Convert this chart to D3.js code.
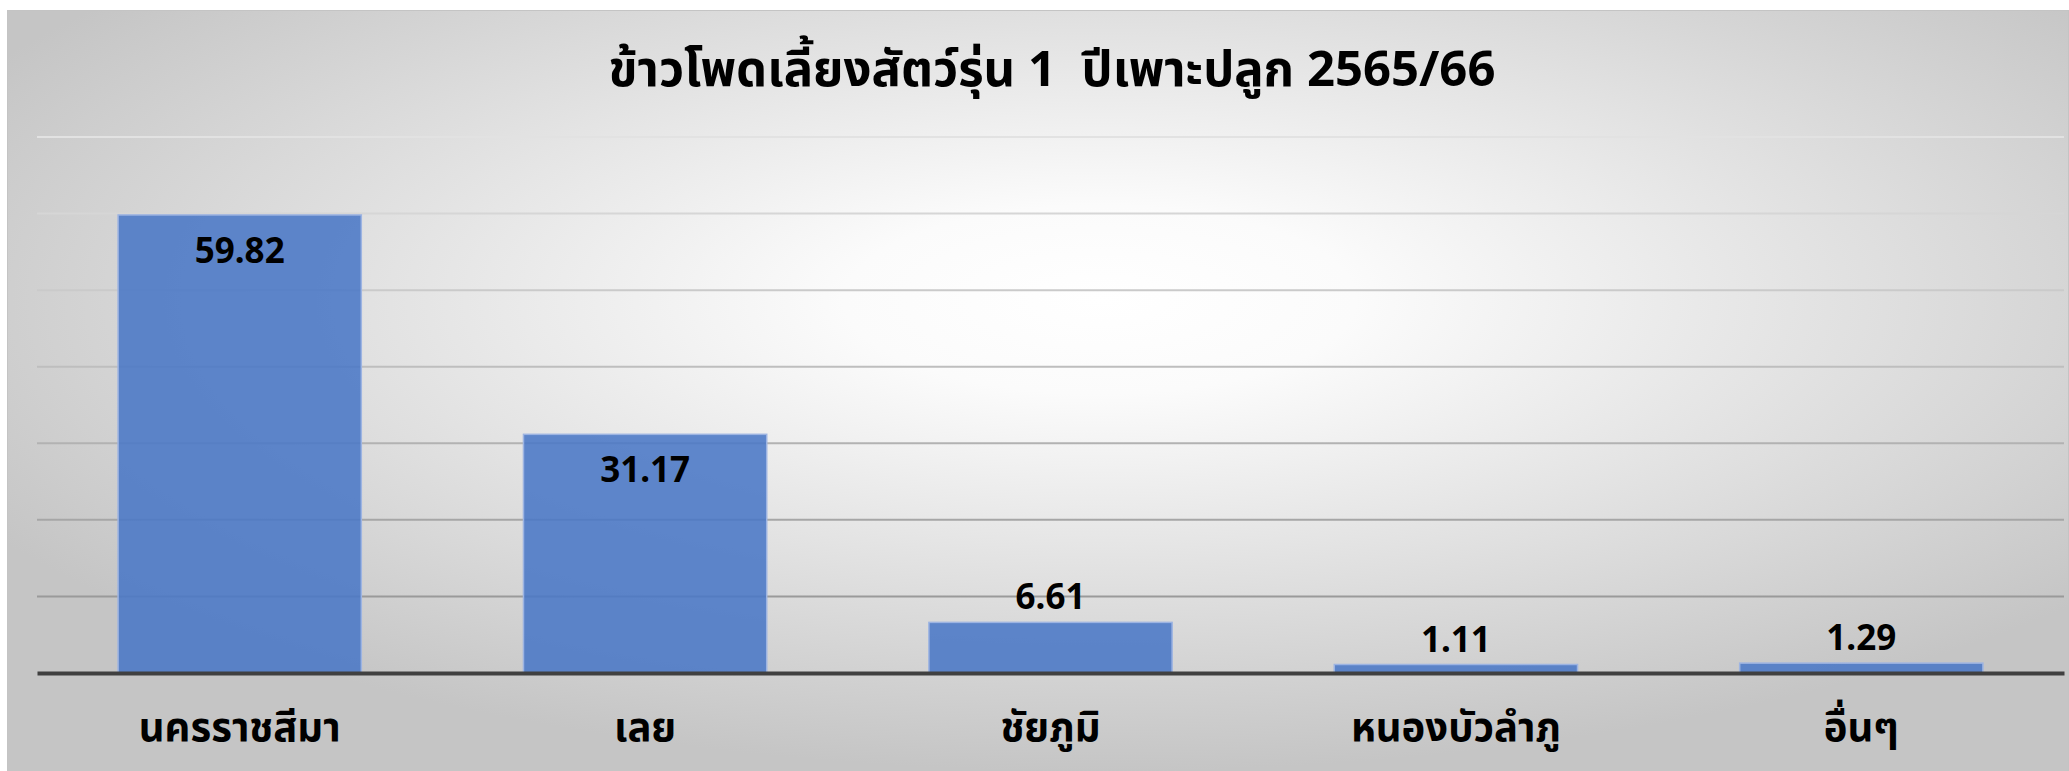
<!DOCTYPE html>
<html>
<head>
<meta charset="utf-8">
<script src="https://cdn.jsdelivr.net/npm/d3@7"></script>
<style>
  body { margin: 0; background: #ffffff; }
  text { font-family: "Noto Sans", "Noto Sans Thai", sans-serif; font-weight: bold; fill: #000; }
</style>
</head>
<body>
<svg id="chart"></svg>
<script>
// data
var chartTitle = "ข้าวโพดเลี้ยงสัตว์รุ่น 1  ปีเพาะปลูก 2565/66";
var provinces = ["นครราชสีมา", "เลย", "ชัยภูมิ", "หนองบัวลำภู", "อื่นๆ"];
var shares = [59.82, 31.17, 6.61, 1.11, 1.29];
var gridTicks = [10, 20, 30, 40, 50, 60, 70];

var W = 2069, H = 771;
var margin = {top: 137, right: 5, bottom: 98, left: 37},
    width = W - margin.left - margin.right,
    height = H - margin.top - margin.bottom;

var svg = d3.select("#chart")
  .attr("width", W)
  .attr("height", H);

// background radial shade
var defs = svg.append("defs");
var grad = defs.append("radialGradient")
  .attr("id", "bg")
  .attr("cx", 0.53).attr("cy", 0.38).attr("r", 0.62);
grad.append("stop").attr("offset", 0).attr("stop-color", "#ffffff");
grad.append("stop").attr("offset", 0.2).attr("stop-color", "#fbfbfb");
grad.append("stop").attr("offset", 1).attr("stop-color", "#c5c5c5");

svg.append("rect")
  .attr("x", 7.5).attr("y", 10.5)
  .attr("width", W - 8).attr("height", H - 10)
  .attr("fill", "url(#bg)")
  .attr("stroke", "#c4c4c4");

var g = svg.append("g")
  .attr("transform", "translate(" + margin.left + "," + margin.top + ")");

var x = d3.scaleBand()
  .domain(provinces)
  .range([0, width])
  .paddingInner(0.4)
  .paddingOuter(0.2);

var y = d3.scaleLinear()
  .domain([0, 70])
  .range([height, 0]);

// gridlines, fading toward the top
var gridShade = d3.scaleLinear().domain([10, 70]).range(["#9a9a9a", "#e2e2e2"]);
g.append("g")
  .selectAll("line")
  .data(gridTicks)
  .enter()
  .append("line")
    .attr("x1", 0)
    .attr("x2", width)
    .attr("y1", function (d) { return y(d); })
    .attr("y2", function (d) { return y(d); })
    .attr("stroke", function (d) { return gridShade(d); })
    .attr("stroke-width", 2);

// bars
g.append("g")
  .selectAll("rect")
  .data(shares)
  .enter()
  .append("rect")
    .attr("x", function (d, i) { return x(provinces[i]); })
    .attr("y", function (d) { return y(d); })
    .attr("width", x.bandwidth())
    .attr("height", function (d) { return height - y(d); })
    .attr("fill", "#4a78c6")
    .attr("fill-opacity", 0.88)
    .attr("stroke", "#9db4e2")
    .attr("stroke-width", 1.5);

// x axis line
g.append("g")
  .attr("transform", "translate(0," + height + ")")
  .call(d3.axisBottom(x).tickSize(0).tickFormat(""))
  .call(function (a) { a.select(".domain").attr("stroke", "#404040").attr("stroke-width", 4); });

// category labels
g.append("g")
  .selectAll("text")
  .data(provinces)
  .enter()
  .append("text")
    .attr("x", function (d) { return x(d) + x.bandwidth() / 2; })
    .attr("y", height + 68)
    .attr("text-anchor", "middle")
    .style("font-size", "40px")
    .text(function (d) { return d; });

// value labels: inside end for tall bars, above for short ones
g.append("g")
  .selectAll("text")
  .data(shares)
  .enter()
  .append("text")
    .attr("x", function (d, i) { return x(provinces[i]) + x.bandwidth() / 2; })
    .attr("y", function (d) { return d > 20 ? y(d) + 48 : y(d) - 13; })
    .attr("text-anchor", "middle")
    .style("font-size", "35px")
    .text(function (d) { return d.toFixed(2); });

// title
svg.append("text")
  .attr("x", 1052)
  .attr("y", 86)
  .attr("text-anchor", "middle")
  .style("font-size", "49px")
  .style("white-space", "pre")
  .text(chartTitle);
</script>
</body>
</html>
